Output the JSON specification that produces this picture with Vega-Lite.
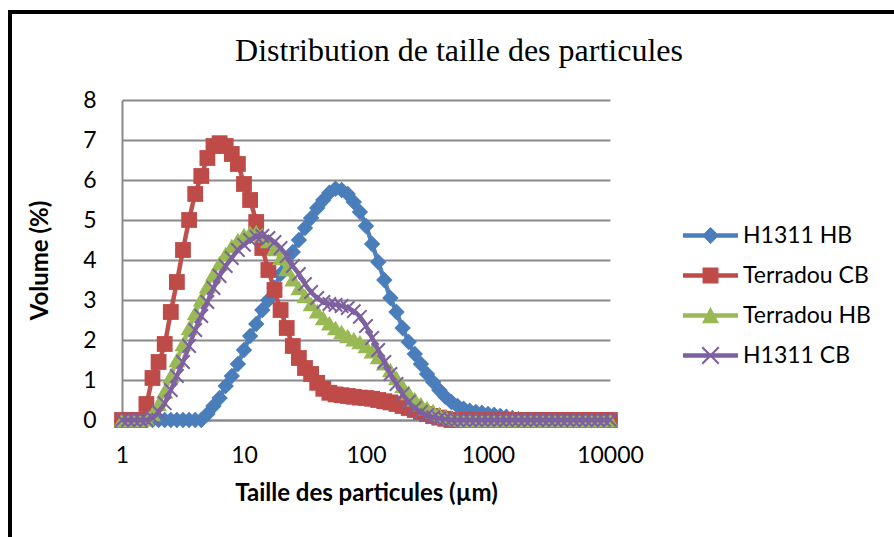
{
  "$schema": "https://vega.github.io/schema/vega-lite/v6.json",
  "autosize": {"type": "none"},
  "padding": {"left": 10, "top": 12, "right": -14, "bottom": -12},
  "width": 898,
  "height": 537,
  "background": "white",
  "title": {"text": "Distribution de taille des particules", "font": "Liberation Serif", "fontSize": 32, "fontWeight": "normal", "color": "black", "anchor": "middle", "frame": "group", "baseline": "alphabetic", "offset": -81},
  "data": {"values": [
    {"d": 1, "H1311 HB": 0, "Terradou CB": 0, "Terradou HB": 0, "H1311 CB": 0},
    {"d": 1.122, "H1311 HB": 0, "Terradou CB": 0, "Terradou HB": 0, "H1311 CB": 0},
    {"d": 1.259, "H1311 HB": 0, "Terradou CB": 0, "Terradou HB": 0, "H1311 CB": 0},
    {"d": 1.413, "H1311 HB": 0, "Terradou CB": 0, "Terradou HB": 0, "H1311 CB": 0},
    {"d": 1.585, "H1311 HB": 0, "Terradou CB": 0.4, "Terradou HB": 0.02, "H1311 CB": 0},
    {"d": 1.778, "H1311 HB": 0, "Terradou CB": 1.05, "Terradou HB": 0.15, "H1311 CB": 0.05},
    {"d": 1.995, "H1311 HB": 0, "Terradou CB": 1.45, "Terradou HB": 0.4, "H1311 CB": 0.2},
    {"d": 2.239, "H1311 HB": 0, "Terradou CB": 1.9, "Terradou HB": 0.72, "H1311 CB": 0.42},
    {"d": 2.512, "H1311 HB": 0, "Terradou CB": 2.7, "Terradou HB": 1.1, "H1311 CB": 0.75},
    {"d": 2.818, "H1311 HB": 0, "Terradou CB": 3.45, "Terradou HB": 1.5, "H1311 CB": 1.1},
    {"d": 3.162, "H1311 HB": 0, "Terradou CB": 4.25, "Terradou HB": 1.9, "H1311 CB": 1.45},
    {"d": 3.548, "H1311 HB": 0, "Terradou CB": 5.0, "Terradou HB": 2.3, "H1311 CB": 1.85},
    {"d": 3.981, "H1311 HB": 0, "Terradou CB": 5.65, "Terradou HB": 2.68, "H1311 CB": 2.25},
    {"d": 4.467, "H1311 HB": 0, "Terradou CB": 6.1, "Terradou HB": 3.02, "H1311 CB": 2.6},
    {"d": 5.012, "H1311 HB": 0.15, "Terradou CB": 6.55, "Terradou HB": 3.35, "H1311 CB": 2.95},
    {"d": 5.623, "H1311 HB": 0.35, "Terradou CB": 6.85, "Terradou HB": 3.65, "H1311 CB": 3.3},
    {"d": 6.31, "H1311 HB": 0.55, "Terradou CB": 6.92, "Terradou HB": 3.92, "H1311 CB": 3.6},
    {"d": 7.079, "H1311 HB": 0.85, "Terradou CB": 6.85, "Terradou HB": 4.15, "H1311 CB": 3.85},
    {"d": 7.943, "H1311 HB": 1.1, "Terradou CB": 6.65, "Terradou HB": 4.35, "H1311 CB": 4.05},
    {"d": 8.913, "H1311 HB": 1.4, "Terradou CB": 6.4, "Terradou HB": 4.5, "H1311 CB": 4.25},
    {"d": 10, "H1311 HB": 1.75, "Terradou CB": 5.9, "Terradou HB": 4.62, "H1311 CB": 4.38},
    {"d": 11.22, "H1311 HB": 2.1, "Terradou CB": 5.5, "Terradou HB": 4.68, "H1311 CB": 4.5},
    {"d": 12.59, "H1311 HB": 2.4, "Terradou CB": 4.95, "Terradou HB": 4.7, "H1311 CB": 4.58},
    {"d": 14.13, "H1311 HB": 2.75, "Terradou CB": 4.3, "Terradou HB": 4.62, "H1311 CB": 4.6},
    {"d": 15.85, "H1311 HB": 3.0, "Terradou CB": 3.75, "Terradou HB": 4.48, "H1311 CB": 4.55},
    {"d": 17.78, "H1311 HB": 3.3, "Terradou CB": 3.25, "Terradou HB": 4.28, "H1311 CB": 4.45},
    {"d": 19.95, "H1311 HB": 3.65, "Terradou CB": 2.75, "Terradou HB": 4.05, "H1311 CB": 4.3},
    {"d": 22.39, "H1311 HB": 3.9, "Terradou CB": 2.3, "Terradou HB": 3.78, "H1311 CB": 4.1},
    {"d": 25.12, "H1311 HB": 4.2, "Terradou CB": 1.85, "Terradou HB": 3.52, "H1311 CB": 3.85},
    {"d": 28.18, "H1311 HB": 4.5, "Terradou CB": 1.55, "Terradou HB": 3.3, "H1311 CB": 3.65},
    {"d": 31.62, "H1311 HB": 4.8, "Terradou CB": 1.3, "Terradou HB": 3.1, "H1311 CB": 3.4},
    {"d": 35.48, "H1311 HB": 5.05, "Terradou CB": 1.15, "Terradou HB": 2.9, "H1311 CB": 3.2},
    {"d": 39.81, "H1311 HB": 5.3, "Terradou CB": 0.93, "Terradou HB": 2.72, "H1311 CB": 3.05},
    {"d": 44.67, "H1311 HB": 5.5, "Terradou CB": 0.78, "Terradou HB": 2.55, "H1311 CB": 2.95},
    {"d": 50.12, "H1311 HB": 5.68, "Terradou CB": 0.68, "Terradou HB": 2.42, "H1311 CB": 2.9},
    {"d": 56.23, "H1311 HB": 5.78, "Terradou CB": 0.64, "Terradou HB": 2.3, "H1311 CB": 2.88},
    {"d": 63.1, "H1311 HB": 5.75, "Terradou CB": 0.62, "Terradou HB": 2.2, "H1311 CB": 2.85},
    {"d": 70.79, "H1311 HB": 5.65, "Terradou CB": 0.6, "Terradou HB": 2.1, "H1311 CB": 2.8},
    {"d": 79.43, "H1311 HB": 5.45, "Terradou CB": 0.58, "Terradou HB": 2.02, "H1311 CB": 2.72},
    {"d": 89.13, "H1311 HB": 5.2, "Terradou CB": 0.56, "Terradou HB": 1.95, "H1311 CB": 2.58},
    {"d": 100, "H1311 HB": 4.85, "Terradou CB": 0.55, "Terradou HB": 1.85, "H1311 CB": 2.35},
    {"d": 112.2, "H1311 HB": 4.4, "Terradou CB": 0.53, "Terradou HB": 1.72, "H1311 CB": 2.05},
    {"d": 125.9, "H1311 HB": 3.95, "Terradou CB": 0.5, "Terradou HB": 1.58, "H1311 CB": 1.75},
    {"d": 141.3, "H1311 HB": 3.5, "Terradou CB": 0.47, "Terradou HB": 1.42, "H1311 CB": 1.45},
    {"d": 158.5, "H1311 HB": 3.05, "Terradou CB": 0.44, "Terradou HB": 1.25, "H1311 CB": 1.15},
    {"d": 177.8, "H1311 HB": 2.7, "Terradou CB": 0.4, "Terradou HB": 1.05, "H1311 CB": 0.9},
    {"d": 199.5, "H1311 HB": 2.3, "Terradou CB": 0.35, "Terradou HB": 0.85, "H1311 CB": 0.65},
    {"d": 223.9, "H1311 HB": 1.95, "Terradou CB": 0.3, "Terradou HB": 0.68, "H1311 CB": 0.45},
    {"d": 251.2, "H1311 HB": 1.65, "Terradou CB": 0.25, "Terradou HB": 0.52, "H1311 CB": 0.3},
    {"d": 281.8, "H1311 HB": 1.4, "Terradou CB": 0.2, "Terradou HB": 0.4, "H1311 CB": 0.2},
    {"d": 316.2, "H1311 HB": 1.15, "Terradou CB": 0.15, "Terradou HB": 0.3, "H1311 CB": 0.12},
    {"d": 354.8, "H1311 HB": 0.95, "Terradou CB": 0.1, "Terradou HB": 0.22, "H1311 CB": 0.07},
    {"d": 398.1, "H1311 HB": 0.75, "Terradou CB": 0.06, "Terradou HB": 0.15, "H1311 CB": 0.04},
    {"d": 446.7, "H1311 HB": 0.58, "Terradou CB": 0.03, "Terradou HB": 0.09, "H1311 CB": 0.02},
    {"d": 501.2, "H1311 HB": 0.45, "Terradou CB": 0, "Terradou HB": 0.05, "H1311 CB": 0},
    {"d": 562.3, "H1311 HB": 0.35, "Terradou CB": 0, "Terradou HB": 0.02, "H1311 CB": 0},
    {"d": 631, "H1311 HB": 0.28, "Terradou CB": 0, "Terradou HB": 0, "H1311 CB": 0},
    {"d": 707.9, "H1311 HB": 0.23, "Terradou CB": 0, "Terradou HB": 0, "H1311 CB": 0},
    {"d": 794.3, "H1311 HB": 0.2, "Terradou CB": 0, "Terradou HB": 0, "H1311 CB": 0},
    {"d": 891.3, "H1311 HB": 0.18, "Terradou CB": 0, "Terradou HB": 0, "H1311 CB": 0},
    {"d": 1000, "H1311 HB": 0.15, "Terradou CB": 0, "Terradou HB": 0, "H1311 CB": 0},
    {"d": 1122, "H1311 HB": 0.13, "Terradou CB": 0, "Terradou HB": 0, "H1311 CB": 0},
    {"d": 1259, "H1311 HB": 0.1, "Terradou CB": 0, "Terradou HB": 0, "H1311 CB": 0},
    {"d": 1413, "H1311 HB": 0.08, "Terradou CB": 0, "Terradou HB": 0, "H1311 CB": 0},
    {"d": 1585, "H1311 HB": 0.05, "Terradou CB": 0, "Terradou HB": 0, "H1311 CB": 0},
    {"d": 1778, "H1311 HB": 0.02, "Terradou CB": 0, "Terradou HB": 0, "H1311 CB": 0},
    {"d": 1995, "H1311 HB": 0, "Terradou CB": 0, "Terradou HB": 0, "H1311 CB": 0},
    {"d": 2239, "H1311 HB": 0, "Terradou CB": 0, "Terradou HB": 0, "H1311 CB": 0},
    {"d": 2512, "H1311 HB": 0, "Terradou CB": 0, "Terradou HB": 0, "H1311 CB": 0},
    {"d": 2818, "H1311 HB": 0, "Terradou CB": 0, "Terradou HB": 0, "H1311 CB": 0},
    {"d": 3162, "H1311 HB": 0, "Terradou CB": 0, "Terradou HB": 0, "H1311 CB": 0},
    {"d": 3548, "H1311 HB": 0, "Terradou CB": 0, "Terradou HB": 0, "H1311 CB": 0},
    {"d": 3981, "H1311 HB": 0, "Terradou CB": 0, "Terradou HB": 0, "H1311 CB": 0},
    {"d": 4467, "H1311 HB": 0, "Terradou CB": 0, "Terradou HB": 0, "H1311 CB": 0},
    {"d": 5012, "H1311 HB": 0, "Terradou CB": 0, "Terradou HB": 0, "H1311 CB": 0},
    {"d": 5623, "H1311 HB": 0, "Terradou CB": 0, "Terradou HB": 0, "H1311 CB": 0},
    {"d": 6310, "H1311 HB": 0, "Terradou CB": 0, "Terradou HB": 0, "H1311 CB": 0},
    {"d": 7079, "H1311 HB": 0, "Terradou CB": 0, "Terradou HB": 0, "H1311 CB": 0},
    {"d": 7943, "H1311 HB": 0, "Terradou CB": 0, "Terradou HB": 0, "H1311 CB": 0},
    {"d": 8913, "H1311 HB": 0, "Terradou CB": 0, "Terradou HB": 0, "H1311 CB": 0},
    {"d": 10000, "H1311 HB": 0, "Terradou CB": 0, "Terradou HB": 0, "H1311 CB": 0}
  ]},
  "transform": [{"fold": ["H1311 HB", "Terradou CB", "Terradou HB", "H1311 CB"], "as": ["series", "vol"]}],
  "encoding": {
    "x": {"field": "d", "type": "quantitative",
      "scale": {"type": "log", "domain": [1, 10000], "range": [112, 600]},
      "axis": {"orient": "bottom", "offset": -129, "values": [1, 10, 100, 1000, 10000], "format": "d", "grid": false, "labelPadding": 24, "labelFlush": false, "labelOverlap": false, "title": "Taille des particules (µm)", "titlePadding": 14}},
    "y": {"field": "vol", "type": "quantitative",
      "scale": {"domain": [0, 8], "range": [408, 88], "nice": false, "zero": true},
      "axis": {"orient": "left", "offset": -112, "values": [0, 1, 2, 3, 4, 5, 6, 7, 8], "grid": true, "labelPadding": 26, "labelFlush": false, "title": "Volume (%)", "titlePadding": 30}}
  },
  "layer": [
    {"transform": [{"filter": "datum.series === 'H1311 HB'"}], "mark": {"type": "line", "color": "#4F81BD", "strokeWidth": 4.5, "interpolate": "monotone"}},
    {"transform": [{"filter": "datum.series === 'H1311 HB'"}], "mark": {"type": "point", "shape": "diamond", "filled": true, "opacity": 1, "color": "#4A7EBB", "size": 270}},
    {"transform": [{"filter": "datum.series === 'Terradou CB'"}], "mark": {"type": "line", "color": "#C0504D", "strokeWidth": 4.5, "interpolate": "monotone"}},
    {"transform": [{"filter": "datum.series === 'Terradou CB'"}], "mark": {"type": "point", "shape": "square", "filled": true, "opacity": 1, "color": "#BE4B48", "size": 250}},
    {"transform": [{"filter": "datum.series === 'Terradou HB'"}], "mark": {"type": "line", "color": "#9BBB59", "strokeWidth": 4.5, "interpolate": "monotone"}},
    {"transform": [{"filter": "datum.series === 'Terradou HB'"}], "mark": {"type": "point", "shape": "triangle-up", "filled": true, "opacity": 1, "color": "#98B954", "size": 290}},
    {"transform": [{"filter": "datum.series === 'H1311 CB'"}], "mark": {"type": "line", "color": "#8064A2", "strokeWidth": 4.5, "interpolate": "monotone"}},
    {"transform": [{"filter": "datum.series === 'H1311 CB'"}], "mark": {"type": "point", "shape": "M-1,-1L1,1M-1,1L1,-1", "filled": false, "opacity": 1, "color": "#7D60A0", "strokeWidth": 2, "size": 180}},
    {"transform": [{"filter": "datum.vol < -100"}],
      "mark": {"type": "point", "filled": true, "opacity": 1, "size": 3025},
      "encoding": {
        "color": {"field": "series", "type": "nominal",
          "scale": {"domain": ["H1311 HB", "Terradou CB", "Terradou HB", "H1311 CB"], "range": ["#4A7EBB", "#BE4B48", "#98B954", "#7D60A0"]},
          "legend": {"orient": "none", "legendX": 673, "legendY": 196, "title": null, "symbolSize": 3025, "rowPadding": -7, "labelOffset": 5, "padding": 0, "symbolStrokeWidth": 0}},
        "shape": {"field": "series", "type": "nominal",
          "scale": {"domain": ["H1311 HB", "Terradou CB", "Terradou HB", "H1311 CB"], "range": [
            "M-1,-0.085H1V0.085H-1Z M0,-0.31L0.31,0L0,0.31L-0.31,0Z",
            "M-1,-0.085H1V0.085H-1Z M-0.29,-0.29H0.29V0.29H-0.29Z",
            "M-1,-0.085H1V0.085H-1Z M0,-0.32L0.31,0.28L-0.31,0.28Z",
            "M-1,-0.085H1V0.085H-1Z M-0.272,-0.328L0.328,0.272L0.272,0.328L-0.328,-0.272Z M0.328,-0.272L-0.272,0.328L-0.328,0.272L0.272,-0.328Z"
          ]},
          "legend": {"orient": "none", "legendX": 673, "legendY": 196, "title": null, "symbolSize": 3025, "rowPadding": -7, "labelOffset": 5, "padding": 0, "symbolStrokeWidth": 0}}
      }
    }
  ],
  "config": {
    "view": {"stroke": "black", "strokeWidth": 4},
    "font": "Lato",
    "axis": {"labelFont": "Lato", "labelFontSize": 23, "labelColor": "black", "titleFont": "Lato", "titleFontSize": 24, "titleFontWeight": "bold", "titleColor": "black", "domainColor": "#898989", "domainWidth": 2, "ticks": false, "tickSize": 0, "gridColor": "#898989", "gridWidth": 1.8},
    "legend": {"labelFont": "Lato", "labelFontSize": 23, "labelColor": "black", "labelLimit": 300}
  }
}
